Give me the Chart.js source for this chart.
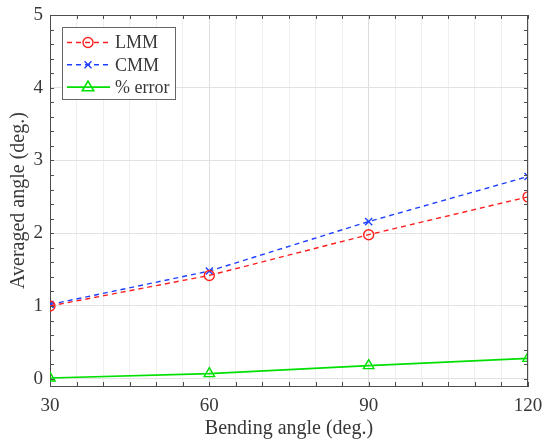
<!DOCTYPE html>
<html>
<head>
<meta charset="utf-8">
<script src="https://cdn.jsdelivr.net/npm/chart.js@4.4.1/dist/chart.umd.min.js"></script>
<style>
  html, body { margin: 0; padding: 0; background: #fff; }
  #wrap { width: 546px; height: 444px; position: relative; }
</style>
</head>
<body>
<div id="wrap"><canvas id="angleChart"></canvas></div>
<script>
// values
const angles = [30, 60, 90, 120];
const lmm = [1.0, 1.42, 1.98, 2.5];
const cmm = [1.02, 1.48, 2.16, 2.78];
const pctError = [0.01, 0.07, 0.18, 0.28];
const seriesNames = ["LMM", "CMM", "% error"];
const xTickLabels = [30, 60, 90, 120];
const yTickLabels = [0, 1, 2, 3, 4, 5];

const FONT = "'Liberation Serif', 'Times New Roman', serif";
const AXIS = "#4d4d4d";
const TEXT = "#383838";

// minor tick positions (every 5 deg on x, every 0.2 on y)
const xMinor = [];
for (let v = 30; v <= 120; v += 5) xMinor.push(v);
const yMinor = [];
for (let k = 0; k <= 25; k++) yMinor.push(+(k * 0.2).toFixed(1));

const toPoints = ys => angles.map((a, i) => ({ x: a, y: ys[i] }));

function drawMarker(ctx, style, x, y, r) {
  ctx.beginPath();
  if (style === "circle") {
    ctx.arc(x, y, r, 0, Math.PI * 2);
  } else if (style === "triangle") {
    ctx.moveTo(x, y - r);
    ctx.lineTo(x + r * 0.95, y + r * 0.6);
    ctx.lineTo(x - r * 0.95, y + r * 0.6);
    ctx.closePath();
  } else if (style === "crossRot") {
    const d = r * 0.7;
    ctx.moveTo(x - d, y - d); ctx.lineTo(x + d, y + d);
    ctx.moveTo(x + d, y - d); ctx.lineTo(x - d, y + d);
  }
  ctx.stroke();
}

// box around the plot + inward ticks on all four sides
const framePlugin = {
  id: "frame",
  afterDraw(chart) {
    const { ctx, chartArea: a, scales } = chart;
    ctx.save();
    ctx.strokeStyle = AXIS;
    ctx.lineWidth = 1;
    ctx.beginPath();
    ctx.moveTo(a.left, a.top + 0.5); ctx.lineTo(a.right, a.top + 0.5);
    ctx.moveTo(a.right - 0.5, a.top); ctx.lineTo(a.right - 0.5, a.bottom);
    xMinor.forEach(v => {
      const px = Math.round(scales.x.getPixelForValue(v)) + 0.5;
      ctx.moveTo(px, a.bottom); ctx.lineTo(px, a.bottom - 4);
      ctx.moveTo(px, a.top); ctx.lineTo(px, a.top + 4);
    });
    yMinor.forEach(v => {
      const py = Math.round(scales.y.getPixelForValue(v)) + 0.5;
      ctx.moveTo(a.left, py); ctx.lineTo(a.left + 4, py);
      ctx.moveTo(a.right, py); ctx.lineTo(a.right - 4, py);
    });
    ctx.stroke();
    ctx.restore();
  }
};

// legend box in the upper-left corner of the axes
const legendPlugin = {
  id: "boxLegend",
  afterDraw(chart) {
    const { ctx, chartArea: a } = chart;
    const x0 = a.left + 12, y0 = a.top + 12, w = 113, h = 72;
    ctx.save();
    ctx.fillStyle = "#fff";
    ctx.fillRect(x0, y0, w, h);
    ctx.strokeStyle = "#666";
    ctx.lineWidth = 1;
    ctx.strokeRect(x0 + 0.5, y0 + 0.5, w, h);
    chart.data.datasets.forEach((ds, i) => {
      const y = y0 + 15.5 + i * 22.3;
      ctx.strokeStyle = ds.borderColor;
      ctx.lineWidth = ds.borderWidth;
      ctx.setLineDash(ds.borderDash || []);
      ctx.beginPath();
      ctx.moveTo(x0 + 5, y); ctx.lineTo(x0 + 48, y);
      ctx.stroke();
      ctx.setLineDash([]);
      drawMarker(ctx, ds.pointStyle, x0 + 26, y, ds.pointRadius);
      ctx.fillStyle = TEXT;
      ctx.font = "18px " + FONT;
      ctx.textBaseline = "middle";
      ctx.textAlign = "left";
      ctx.fillText(ds.label, x0 + 53, y + 1);
    });
    ctx.restore();
  }
};

const ctx = document.getElementById("angleChart").getContext("2d");

new Chart(ctx, {
  type: "line",
  data: {
    datasets: [
      {
        label: seriesNames[0], data: toPoints(lmm),
        borderColor: "#ff2020", borderWidth: 1.4, borderDash: [5, 4],
        pointStyle: "circle", pointRadius: 5, pointBorderWidth: 1.4,
        pointBackgroundColor: "rgba(0,0,0,0)", pointBorderColor: "#ff2020"
      },
      {
        label: seriesNames[1], data: toPoints(cmm),
        borderColor: "#2040ff", borderWidth: 1.4, borderDash: [5, 4],
        pointStyle: "crossRot", pointRadius: 5, pointBorderWidth: 1.4,
        pointBackgroundColor: "rgba(0,0,0,0)", pointBorderColor: "#2040ff"
      },
      {
        label: seriesNames[2], data: toPoints(pctError),
        borderColor: "#00e000", borderWidth: 1.6,
        pointStyle: "triangle", pointRadius: 6, pointBorderWidth: 1.4,
        pointBackgroundColor: "rgba(0,0,0,0)", pointBorderColor: "#00e000"
      }
    ]
  },
  options: {
    responsive: true,
    maintainAspectRatio: false,
    animation: false,
    layout: { padding: { top: 15, right: 18, left: 0, bottom: 0 } },
    plugins: {
      legend: { display: false },
      tooltip: { enabled: false }
    },
    scales: {
      x: {
        type: "linear",
        min: 30, max: 120,
        afterBuildTicks: s => { s.ticks = xMinor.map(v => ({ value: v })); },
        afterFit: s => { s.height = 58; s.paddingLeft = 0; s.paddingRight = 0; },
        ticks: {
          autoSkip: false, maxRotation: 0, padding: 9,
          color: TEXT, font: { family: FONT, size: 19 },
          callback: v => (xTickLabels.includes(v) ? String(v) : "")
        },
        grid: {
          drawTicks: false,
          color: c => (xTickLabels.includes(c.tick && c.tick.value) ? "#dedede" : "#efefef")
        },
        border: { color: AXIS, width: 1 },
        title: {
          display: true, text: "Bending angle (deg.)", color: TEXT,
          font: { family: FONT, size: 20 }, padding: { top: 4, bottom: 3 }
        }
      },
      y: {
        type: "linear",
        min: -0.1, max: 5,
        afterBuildTicks: s => { s.ticks = yTickLabels.map(v => ({ value: v })); },
        afterFit: s => { s.width = 50; s.paddingTop = 0; s.paddingBottom = 0; },
        ticks: {
          padding: 7,
          color: TEXT, font: { family: FONT, size: 19 },
          callback: v => String(v)
        },
        grid: { drawTicks: false, color: "#e2e2e2" },
        border: { color: AXIS, width: 1 },
        title: {
          display: true, text: "Averaged angle (deg.)", color: TEXT,
          font: { family: FONT, size: 20 }, padding: { top: 7, bottom: 2 }
        }
      }
    }
  },
  plugins: [framePlugin, legendPlugin]
});
</script>
</body>
</html>
